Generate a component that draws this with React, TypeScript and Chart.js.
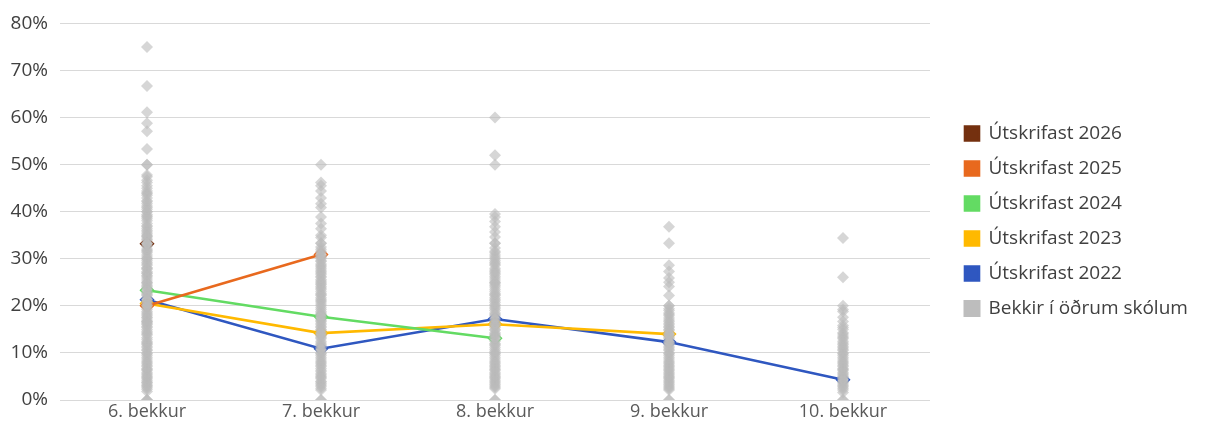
import React, { useEffect, useRef } from "react";
import { Chart, registerables } from "chart.js";

Chart.register(...registerables);

const categories = ["6. bekkur", "7. bekkur", "8. bekkur", "9. bekkur", "10. bekkur"];
const yTicks = [0, 10, 20, 30, 40, 50, 60, 70, 80];

const s2026 = [33.2];
const s2025 = [20.0, 30.9];
const s2024 = [23.3, 17.7, 13.1];
const s2023 = [20.5, 14.2, 16.1, 14.0];
const s2022 = [21.3, 10.9, 17.2, 12.3, 4.3];

const other6 = [75, 66.7, 61.1, 58.8, 57.1, 53.3, 50, 50, 47.8, 47.4, 46.7, 46.2, 45.5, 45, 44.4, 44, 43.8, 43.5, 42.9, 42.3, 42.1, 41.7, 41.2, 40.9, 40.5, 40, 40, 39.4, 39.1, 38.9, 38.5, 38.1, 37.5, 37, 36.8, 36.4, 36, 35.7, 35.3, 35, 34.8, 34.6, 34.2, 34, 33.3, 33.3, 32.9, 32.6, 32.1, 31.8, 31.6, 31.3, 30.8, 30.4, 30, 30, 29.6, 29.2, 28.9, 28.6, 28.1, 28, 27.8, 27.3, 27, 26.9, 26.5, 26.3, 25.9, 25.5, 25, 25, 24.7, 24.4, 24.1, 23.8, 23.5, 23.1, 22.7, 22.4, 22.2, 21.7, 21.4, 21.1, 20.8, 20.4, 20, 20, 19.6, 19.2, 18.8, 18.5, 18.2, 17.9, 17.6, 17.4, 17, 16.7, 16.7, 16.4, 16.2, 16, 15.6, 15.4, 15, 14.6, 14.3, 14, 13.8, 13.3, 12.9, 12.5, 12.2, 12, 11.8, 11.4, 11.1, 10.7, 10.5, 10, 9.8, 9.5, 9.1, 8.7, 8.3, 8, 7.7, 7.4, 7.1, 6.7, 6.5, 6.3, 5.9, 5.6, 5.3, 5, 4.8, 4.5, 4.2, 3.8, 3.7, 3.4, 3.1, 2.9, 2.6, 2.3, 1.8, 0, 0, 0];
const other7 = [50, 46.2, 45.5, 44.4, 42.9, 41.7, 40.9, 38.9, 37.5, 36.4, 35, 34.5, 33.3, 33.3, 32.5, 32, 31.6, 31.3, 30.8, 30.6, 30.3, 30, 29.6, 29.4, 28.9, 28.6, 28.3, 28, 27.6, 27.3, 27, 26.7, 26.3, 26.1, 25.6, 25.3, 25, 24.7, 24.5, 24.1, 23.8, 23.5, 23.1, 22.7, 22.4, 22.2, 21.7, 21.4, 21.1, 20.8, 20.4, 20, 19.6, 19.2, 18.8, 18.5, 18.2, 17.9, 17.6, 17.2, 16.9, 16.7, 16.3, 16, 15.6, 15.4, 15, 14.8, 14.3, 14, 13.8, 13.6, 13.3, 13, 12.5, 12.1, 11.8, 11.5, 11.1, 10.7, 10.5, 10, 9.8, 9.5, 9.1, 8.7, 8.3, 8, 7.7, 7.4, 7.1, 6.7, 6.3, 6, 5.6, 5.3, 5, 4.8, 4.5, 4, 3.8, 3.5, 3.2, 2.9, 2.5, 2.1, 0, 0];
const other8 = [60, 52, 50, 39.5, 38.9, 37.9, 36.8, 35.7, 34.6, 33.3, 33.3, 32.3, 31.6, 31.3, 30.8, 30.4, 30, 29.6, 29.2, 28.9, 28.6, 28, 27.6, 27.3, 27, 26.7, 26.3, 25.9, 25.5, 25, 25, 24.7, 24.4, 24, 23.5, 23.1, 22.7, 22.4, 22.2, 21.7, 21.4, 21.1, 20.7, 20.3, 20, 19.7, 19.4, 19, 18.5, 18.2, 17.9, 17.4, 17, 16.7, 16.2, 16, 15.8, 15.4, 15, 14.8, 14.3, 14, 13.8, 13.6, 13.3, 13, 12.5, 12, 11.8, 11.5, 11.1, 10.7, 10.3, 10, 9.8, 9.5, 9.1, 8.7, 8.3, 8, 7.7, 7.4, 7.1, 6.8, 6.5, 6.3, 5.9, 5.6, 5.3, 5, 4.8, 4.5, 4.2, 3.9, 3.6, 3.3, 3, 2.7, 2.4, 0, 0];
const other9 = [36.8, 33.3, 28.6, 27.3, 25.9, 25, 24.1, 22.2, 20, 20, 19.4, 19, 18.5, 18.2, 17.9, 17.4, 17, 16.7, 16.3, 16, 15.6, 15.4, 15, 14.8, 14.3, 14, 13.8, 13.6, 13.3, 13, 12.5, 12.2, 12, 11.8, 11.4, 11.1, 10.8, 10.5, 10, 9.8, 9.5, 9.1, 8.7, 8.3, 8, 7.7, 7.4, 7.1, 6.8, 6.5, 6.2, 5.9, 5.6, 5.3, 5, 4.8, 4.5, 4.2, 3.9, 3.6, 3.3, 3, 2.7, 2.4, 2.1, 0, 0];
const other10 = [34.4, 26.1, 20, 19.2, 18.8, 17.6, 16.7, 15.8, 15.4, 15, 14.3, 14, 13.6, 13.3, 13, 12.5, 12.1, 11.8, 11.4, 11.1, 10.8, 10.5, 10, 9.8, 9.5, 9.1, 8.7, 8.3, 8, 7.7, 7.4, 7.1, 6.7, 6.5, 6.3, 5.9, 5.6, 5.3, 5, 4.8, 4.5, 4.2, 3.9, 3.7, 3.4, 3.1, 2.8, 2.5, 2.1, 1.6, 0, 0];

const otherByCategory = [other6, other7, other8, other9, other10];

const FONT = "'Open Sans', 'Noto Sans', sans-serif";

const legendPlacer = {
  id: "legendPlacer",
  beforeLayout(chart: any) {
    const lg = chart.legend;
    if (lg && !lg.__patched) {
      const orig = lg.fit.bind(lg);
      lg.fit = function () {
        orig();
        this.width = 277;
      };
      lg.__patched = true;
    }
  },
  afterLayout(chart: any) {
    const lg = chart.legend;
    if (!lg) return;
    const dx = 949 - lg.left;
    lg.left += dx;
    lg.right += dx;
    lg.top -= 5;
    lg.bottom -= 5;
  },
};

export default function App() {
  const ref = useRef<HTMLCanvasElement | null>(null);

  useEffect(() => {
    if (!ref.current) return;
    const otherPoints: { x: string; y: number }[] = [];
    otherByCategory.forEach((vals, i) => {
      vals.forEach((v) => otherPoints.push({ x: categories[i], y: v }));
    });

    const line = (label: string, data: number[], color: string) => ({
      type: "line" as const,
      label,
      data,
      borderColor: color,
      backgroundColor: color,
      borderWidth: 2.6,
      pointStyle: "rectRot",
      pointRadius: 6.5,
      pointBackgroundColor: "rgba(255,255,255,0)",
      pointBorderColor: color,
      pointBorderWidth: 1.5,
      tension: 0,
      order: 1,
    });

    const chart = new Chart(ref.current, {
      type: "line",
      data: {
        labels: categories,
        datasets: [
          line("Útskrifast 2026", s2026, "#74300F"),
          line("Útskrifast 2025", s2025, "#E8691E"),
          line("Útskrifast 2024", s2024, "#63DB63"),
          line("Útskrifast 2023", s2023, "#FFB900"),
          line("Útskrifast 2022", s2022, "#2F57C0"),
          {
            type: "line",
            label: "Bekkir í öðrum skólum",
            data: otherPoints as any,
            showLine: false,
            borderColor: "#BDBDBD",
            backgroundColor: "#BDBDBD",
            pointStyle: "rectRot",
            pointRadius: 6,
            pointBackgroundColor: "rgba(186,186,186,0.6)",
            pointBorderWidth: 0,
            pointBorderColor: "rgba(0,0,0,0)",
            order: 0,
          } as any,
        ],
      },
      options: {
        animation: false,
        responsive: false,
        maintainAspectRatio: false,
        layout: { padding: { top: 22, bottom: 0, left: 0, right: 0 } },
        plugins: {
          tooltip: { enabled: false },
          legend: {
            position: "right",
            align: "center",
            labels: {
              boxWidth: 14,
              boxHeight: 14,
              padding: 16,
              color: "#404040",
              font: { family: FONT, size: 19 },
              sort: (a: any, b: any) => a.datasetIndex - b.datasetIndex,
            },
          },
        },
        scales: {
          x: {
            type: "category",
            offset: true,
            afterFit: (scale: any) => {
              scale.height = 30;
            },
            grid: { display: false, drawTicks: false },
            border: { display: false },
            ticks: { color: "#595959", font: { family: FONT, size: 18 }, padding: 1 },
          },
          y: {
            min: 0,
            max: 80,
            afterBuildTicks: (scale: any) => {
              scale.ticks = yTicks.map((v) => ({ value: v }));
            },
            afterFit: (scale: any) => {
              scale.width = 60;
            },
            grid: { color: "#D9D9D9", lineWidth: 1, drawTicks: false },
            border: { display: false },
            ticks: {
              color: "#404040",
              font: { family: FONT, size: 19 },
              padding: 12,
              callback: (v: any) => v + "%",
            },
          },
        },
      },
      plugins: [legendPlacer],
    } as any);
    return () => chart.destroy();
  }, []);

  return (
    <div style={{ position: "fixed", left: 0, top: 0, width: 1207, height: 430, background: "#fff" }}>
      <canvas ref={ref} width={1207} height={430} style={{ display: "block" }} />
    </div>
  );
}
